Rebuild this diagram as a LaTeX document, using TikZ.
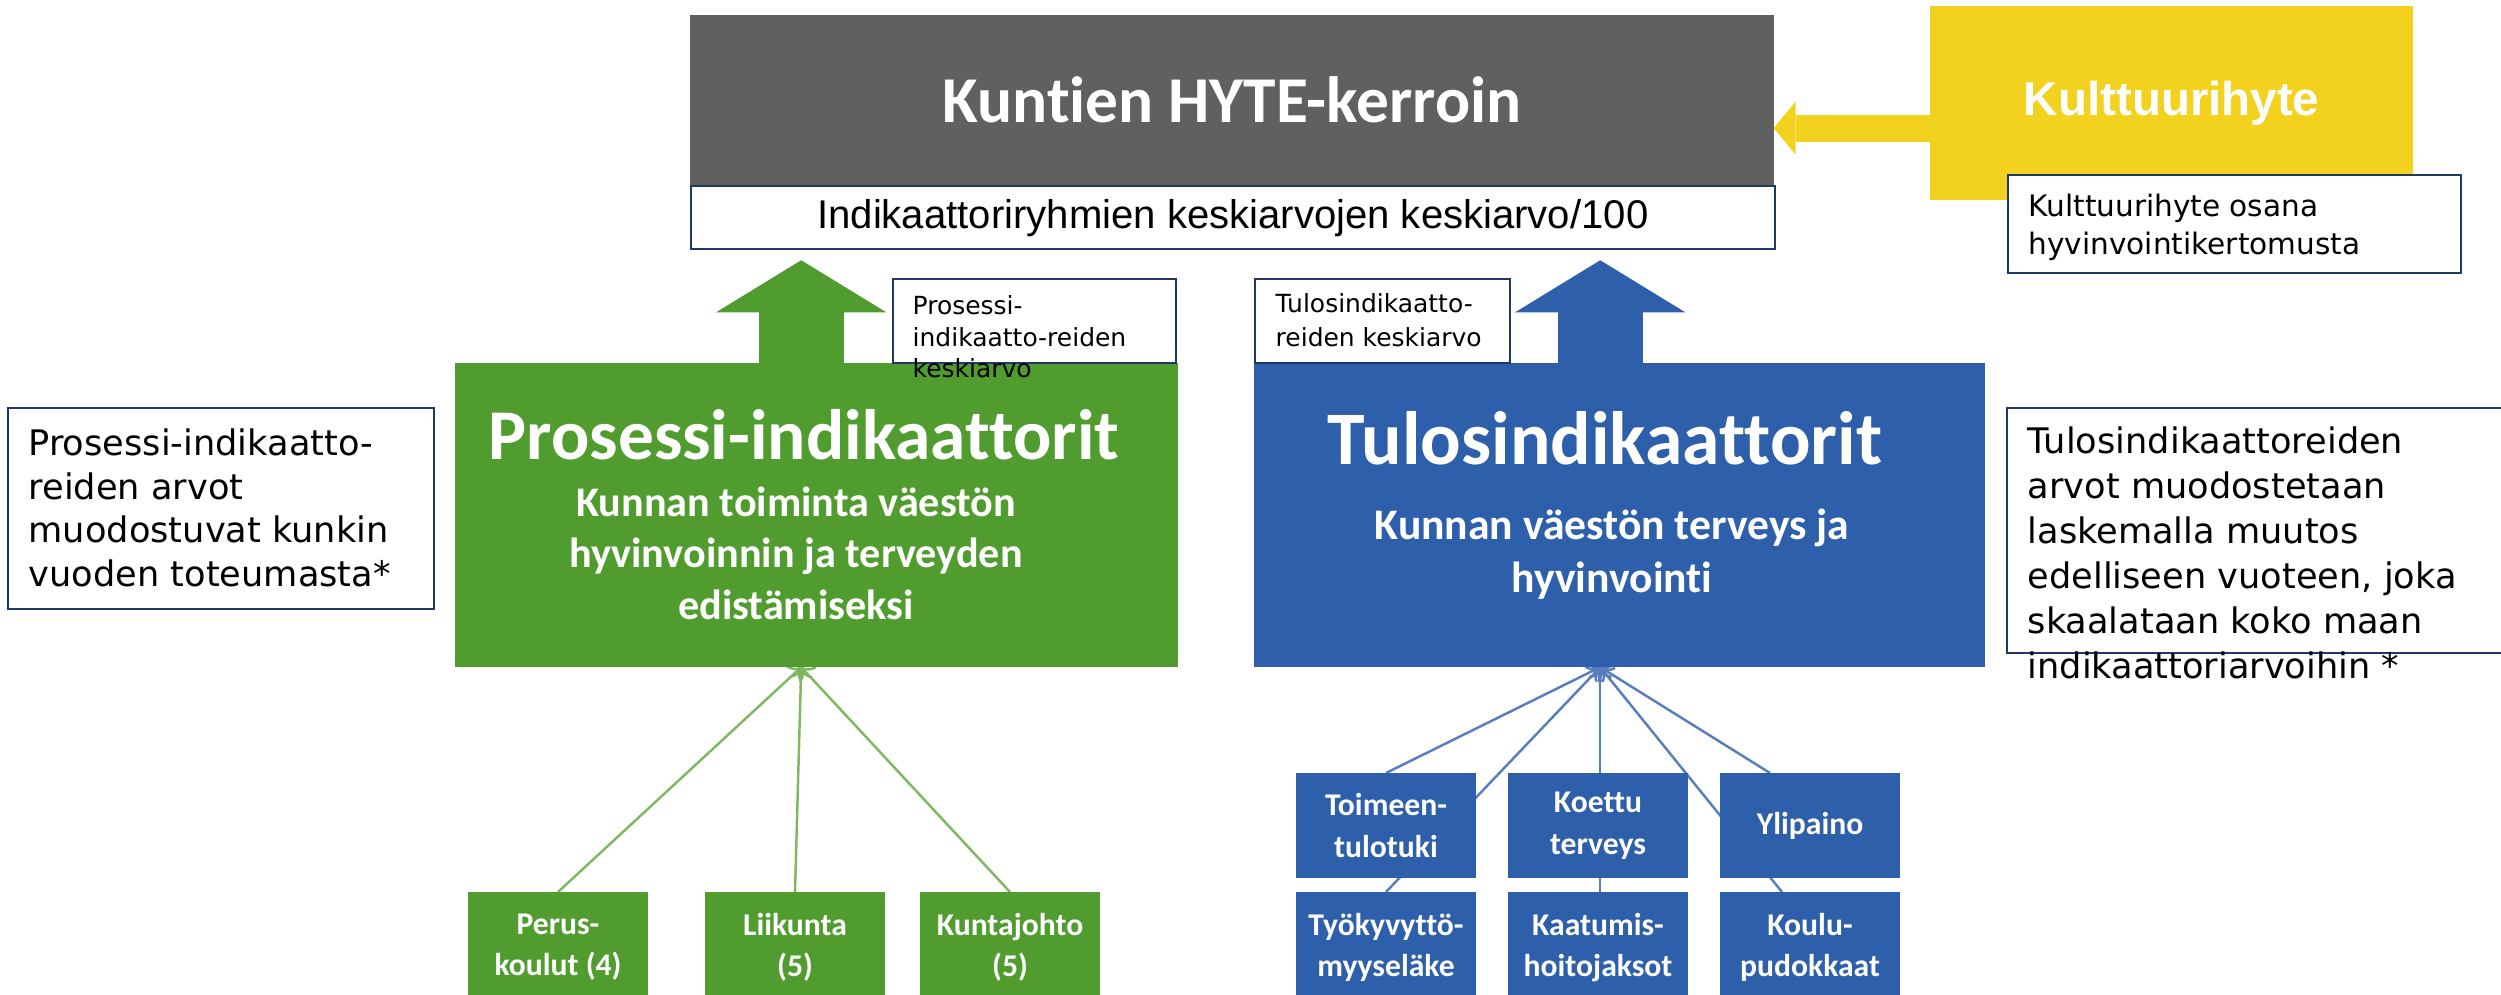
\documentclass[tikz,border=0pt]{standalone}
\usepackage{fontspec}
\setmainfont{DejaVu Sans}
\newfontfamily\blockfont[Ligatures=NoCommon]{Carlito}
\newfontfamily\meanfont{Liberation Sans}
\usetikzlibrary{arrows.meta,backgrounds}
\definecolor{hytegray}{RGB}{96,96,96}
\definecolor{hytegreen}{RGB}{80,156,46}
\definecolor{hyteblue}{RGB}{46,95,170}
\definecolor{hyteyellow}{RGB}{243,209,31}
\definecolor{hytenavy}{RGB}{31,56,100}
\definecolor{greenline}{RGB}{128,184,98}
\definecolor{blueline}{RGB}{88,126,190}
\def\cw{1.8cm}
\tikzset{my block/.style={fill=#1,inner sep=0pt,outer sep=0pt},
  my note/.style={draw=hytenavy,fill=white,line width=0.6pt,inner sep=0pt,anchor=north west},
  my text/.style={inner sep=0pt,anchor=north west,align=left},
  my child/.style={my block=#1,anchor=north,minimum width=\cw,text=white,align=center,
    font=\blockfont\bfseries\fontsize{9}{11.8}\selectfont},
  my link/.style={draw=#1,line width=0.7pt,->},
  my arrow/.style={draw=#1,line width=0.85cm,-{Triangle[length=0.52cm,width=1.7cm,line width=0pt]}}}

\begin{document}
\begin{tikzpicture}[x=0.01cm,y=-0.01cm]
\useasboundingbox (0,0) rectangle (2501,994);
\clip (0,0) rectangle (2501,994);
% top
\node[my block=hytegray,anchor=north west,minimum width=10.83cm,minimum height=1.7cm,text=white,
  font=\blockfont\bfseries\fontsize{18.6}{22}\selectfont] (kerroin) at (690,15) {Kuntien HYTE-kerroin};
\node[my note,minimum width=10.83cm,minimum height=0.63cm,font=\meanfont\fontsize{11.4}{13}\selectfont]
  (keskiarvo) at (kerroin.south west) {Indikaattoriryhmien keskiarvojen keskiarvo/100};
% kulttuurihyte
\node[my block=hyteyellow,anchor=north west,minimum width=4.83cm,minimum height=1.94cm,text=white,
  font=\meanfont\bfseries\fontsize{13.5}{16}\selectfont] (kulttuuri) at (1930,6) {Kulttuurihyte};
\draw[draw=hyteyellow,line width=0.27cm,-{Triangle[length=0.22cm,width=0.53cm,line width=0pt]}]
  ([yshift=-0.25cm]kulttuuri.west) -- ([yshift=-0.25cm]kulttuuri.west -| kerroin.east);
\node[my note,minimum width=4.53cm,minimum height=0.98cm] (kulttuurinote) at (2007,174) {};
\node[my text,font=\fontsize{8.4}{10.8}\selectfont] (kulttuuriteksti) at (2028,193)
  {Kulttuurihyte osana\\hyvinvointikertomusta};
% prosessi-indikaattorit
\node[my block=hytegreen,anchor=north west,minimum width=7.23cm,minimum height=3.04cm] (prosessi) at (455,363) {};
\node[text=white,font=\blockfont\bfseries\fontsize{20.3}{24}\selectfont] (prosessiotsikko) at (804,435)
  {Prosessi-indikaattorit};
\node[text=white,align=center,font=\blockfont\bfseries\fontsize{12}{14.6}\selectfont] (prosessikuvaus) at (796,553)
  {Kunnan toiminta väestön\\hyvinvoinnin ja terveyden\\edistämiseksi};
\coordinate (pfoot) at ([xshift=-0.155cm]prosessi.south);
\draw[my arrow=hytegreen] (pfoot |- prosessi.north) -- ([yshift=-0.1cm]pfoot |- keskiarvo.south);
% tulosindikaattorit
\node[my block=hyteblue,anchor=north west,minimum width=7.31cm,minimum height=3.04cm] (tulos) at (1254,363) {};
\node[text=white,font=\blockfont\bfseries\fontsize{21.5}{25}\selectfont] (tulosotsikko) at (1605,438)
  {Tulosindikaattorit};
\node[text=white,align=center,font=\blockfont\bfseries\fontsize{12.4}{15}\selectfont] (tuloskuvaus) at (1612,554)
  {Kunnan väestön terveys ja\\hyvinvointi};
\coordinate (bfoot) at ([xshift=-0.195cm]tulos.south);
\draw[my arrow=hyteblue] (bfoot |- tulos.north) -- ([yshift=-0.1cm]bfoot |- keskiarvo.south);
% small notes
\node[my note,minimum width=2.83cm,minimum height=0.84cm] (prosessinote) at (892,278) {};
\node[my text,font=\fontsize{7.1}{9}\selectfont] (prosessiteksti) at (912,295)
  {Prosessi-\\indikaatto-reiden\\keskiarvo};
\node[my note,minimum width=2.55cm,minimum height=0.84cm] (tulosnote) at (1254,278) {};
\node[my text,font=\fontsize{7.1}{9.6}\selectfont] (tulosteksti) at (1275,293)
  {Tulosindikaatto-\\reiden keskiarvo};
% side notes
\node[my note,minimum width=4.26cm,minimum height=2.01cm] (prosessiselite) at (7,407) {};
\node[my text,font=\fontsize{10}{12.4}\selectfont] (prosessiselteksti) at (28,428)
  {Prosessi-indikaatto-\\reiden arvot\\muodostuvat kunkin\\vuoden toteumasta*};
\node[my note,minimum width=5.1cm,minimum height=2.45cm] (tulosselite) at (2006,407) {};
\node[my text,font=\fontsize{10}{12.8}\selectfont] (tulosselteksti) at (2027,426)
  {Tulosindikaattoreiden\\arvot muodostetaan\\laskemalla muutos\\edelliseen vuoteen, joka\\skaalataan koko maan\\indikaattoriarvoihin *};
% indicator groups
\foreach \id/\x/\txt in {perus/558/{Perus-\\koulut (4)},liikunta/795/{Liikunta\\(5)},kuntajohto/1010/{Kuntajohto\\(5)}}
  \node[my child=hytegreen,minimum height=1.1cm] (\id) at (\x,892) {\txt};
\foreach \id/\x/\txt in {toimeen/1386/{Toimeen-\\tulotuki},koettu/1598/{Koettu\\terveys},ylipaino/1810/{Ylipaino}}
  \node[my child=hyteblue,minimum height=1.05cm] (\id) at (\x,773) {\txt};
\foreach \id/\x/\txt in {tyokyvytto/1386/{Työkyvyttö-\\myyseläke},kaatumis/1598/{Kaatumis-\\hoitojaksot},koulu/1810/{Koulu-\\pudokkaat}}
  \node[my child=hyteblue,minimum height=1.11cm] (\id) at (\x,892) {\txt};
% links
\begin{scope}[on background layer]
\foreach \id in {perus,liikunta,kuntajohto}
  \draw[my link=greenline] (\id.north) -- (pfoot);
\draw[my link=blueline] (toimeen.north) -- (bfoot);
\draw[my link=blueline] (tyokyvytto.north) -- (bfoot);
\draw[my link=blueline] (koettu.north -| bfoot) -- (bfoot);
\draw[my link=blueline] (kaatumis.north -| bfoot) -- (bfoot);
\draw[my link=blueline] ([xshift=-0.4cm]ylipaino.north) -- (bfoot);
\draw[my link=blueline] ([xshift=-0.28cm]koulu.north) -- (bfoot);
\end{scope}
\end{tikzpicture}
\end{document}
